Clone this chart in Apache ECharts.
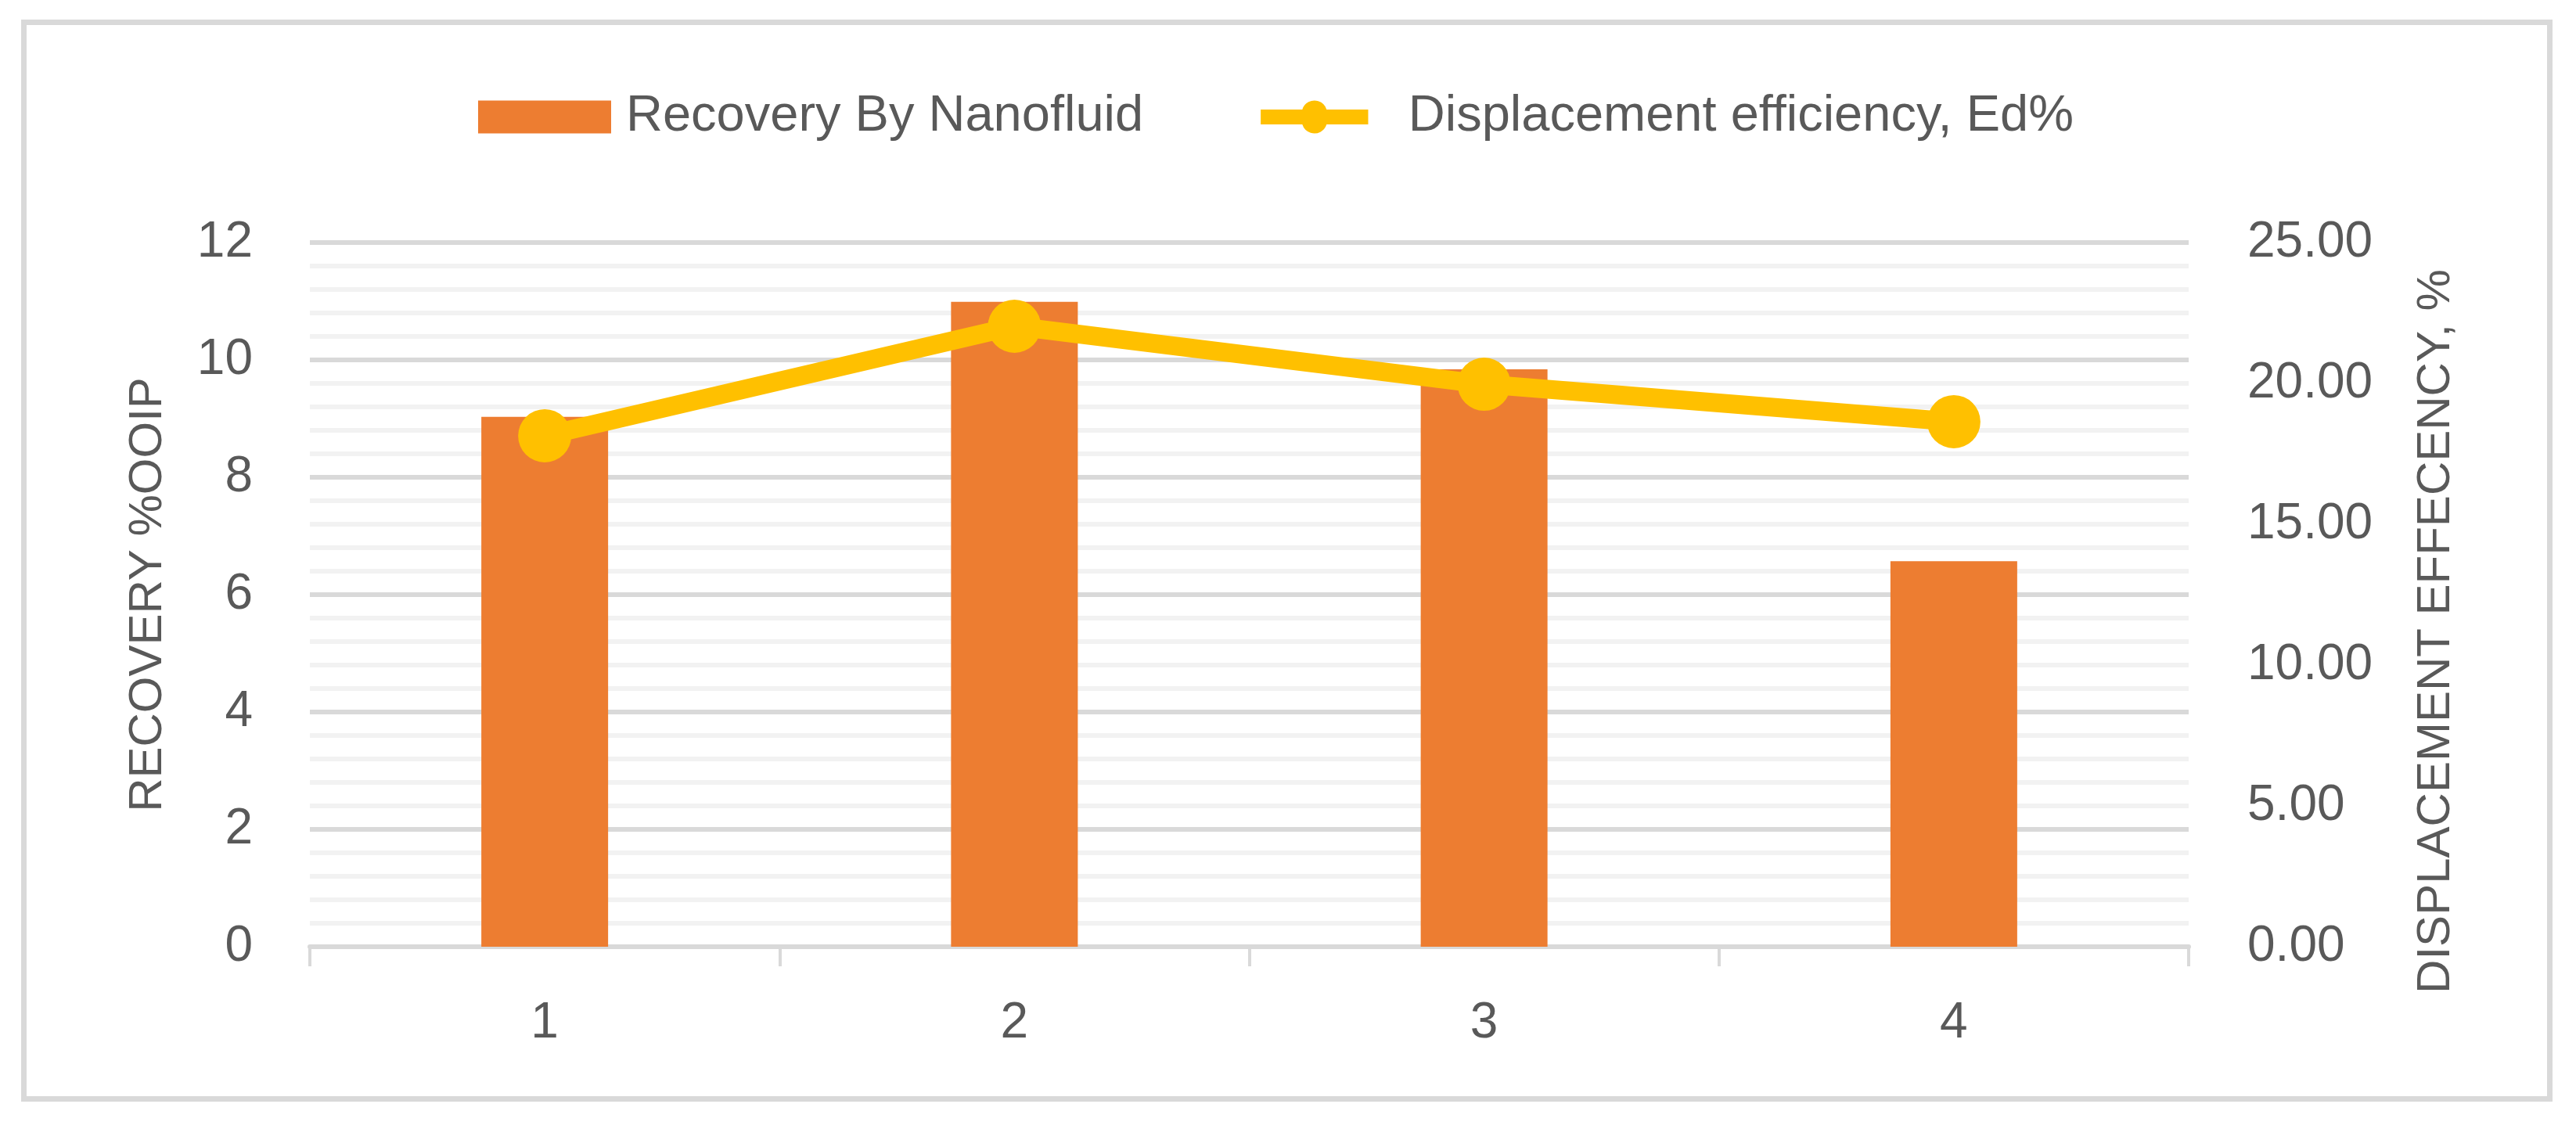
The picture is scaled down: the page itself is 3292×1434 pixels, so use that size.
<!DOCTYPE html>
<html>
<head>
<meta charset="utf-8">
<script src="https://cdn.jsdelivr.net/npm/echarts@6/dist/echarts.min.js"></script>
<style>
html,body{margin:0;padding:0;background:#fff;}
#chart{width:3292px;height:1434px;}
</style>
</head>
<body>
<div id="chart"></div>
<script>
var categories = ['1', '2', '3', '4'];
var recoveryValues = [9.03, 10.99, 9.84, 6.57];
var efficiencyValues = [18.14, 22.03, 19.97, 18.64];
var barName = 'Recovery By Nanofluid';
var lineName = 'Displacement efficiency, Ed%';
var leftAxisTitle = 'RECOVERY %OOIP';
var rightAxisTitle = 'DISPLACEMENT EFFECENCY, %';

var FONT = '"Liberation Sans", Arial, sans-serif';
var TEXT = '#595959';
var LINE_ICON = 'path://M0,8 L72,8 A22,22 0 0,1 114,8 L186,8 L186,34 L114,34 A22,22 0 0,1 72,34 L0,34 Z';
var chart = echarts.init(document.getElementById('chart'), null, {renderer: 'canvas'});
chart.setOption({
  animation: false,
  backgroundColor: '#ffffff',
  textStyle: {fontFamily: FONT, color: TEXT},
  graphic: [{
    type: 'rect',
    shape: {x: 30.5, y: 28.5, width: 3228, height: 1376},
    style: {fill: null, stroke: '#d9d9d9', lineWidth: 7},
    silent: true, z: -1
  }],
  legend: {
    left: 606,
    top: 112,
    itemWidth: 170,
    itemHeight: 42,
    itemGap: 150,
    textStyle: {fontSize: 65, color: TEXT, fontFamily: FONT, padding: [0, 0, 0, 14]},
    data: [
      {name: barName, icon: 'rect'},
      {name: lineName, icon: LINE_ICON,
       textStyle: {fontSize: 65, color: TEXT, fontFamily: FONT, padding: [0, 0, 0, 30]}}
    ]
  },
  grid: {left: 396, right: 495, top: 310, bottom: 224},
  xAxis: {
    type: 'category',
    data: categories,
    boundaryGap: true,
    axisLine: {show: true, lineStyle: {color: '#d9d9d9', width: 6}},
    axisTick: {show: true, length: 25, interval: 0, lineStyle: {color: '#d9d9d9', width: 4}},
    axisLabel: {fontSize: 64, color: TEXT, fontFamily: FONT, margin: 66}
  },
  yAxis: [{
    type: 'value',
    min: 0, max: 12, interval: 2,
    name: leftAxisTitle,
    nameLocation: 'middle',
    nameGap: 177,
    nameTextStyle: {fontSize: 60, color: TEXT, fontFamily: FONT},
    axisLine: {show: false},
    axisTick: {show: false},
    axisLabel: {fontSize: 64, color: TEXT, fontFamily: FONT, margin: 73},
    splitLine: {show: true, lineStyle: {color: '#d9d9d9', width: 6}},
    minorTick: {show: false, splitNumber: 5},
    minorSplitLine: {show: true, lineStyle: {color: '#f2f2f2', width: 6}}
  }, {
    type: 'value',
    min: 0, max: 25, interval: 5,
    position: 'right',
    name: rightAxisTitle,
    nameLocation: 'middle',
    nameGap: 286,
    nameTextStyle: {fontSize: 60, color: TEXT, fontFamily: FONT, padding: [0, 94, 0, 0]},
    axisLine: {show: false},
    axisTick: {show: false},
    axisLabel: {fontSize: 64, color: TEXT, fontFamily: FONT, margin: 75,
      formatter: function (v) { return v.toFixed(2); }},
    splitLine: {show: false}
  }],
  series: [{
    name: barName,
    type: 'bar',
    data: recoveryValues,
    barWidth: 162,
    itemStyle: {color: '#ED7D31'},
    z: 2
  }, {
    name: lineName,
    type: 'line',
    yAxisIndex: 1,
    data: efficiencyValues,
    symbol: 'circle',
    symbolSize: 68,
    lineStyle: {color: '#FFC000', width: 24},
    itemStyle: {color: '#FFC000'},
    z: 3
  }]
});
</script>
</body>
</html>
